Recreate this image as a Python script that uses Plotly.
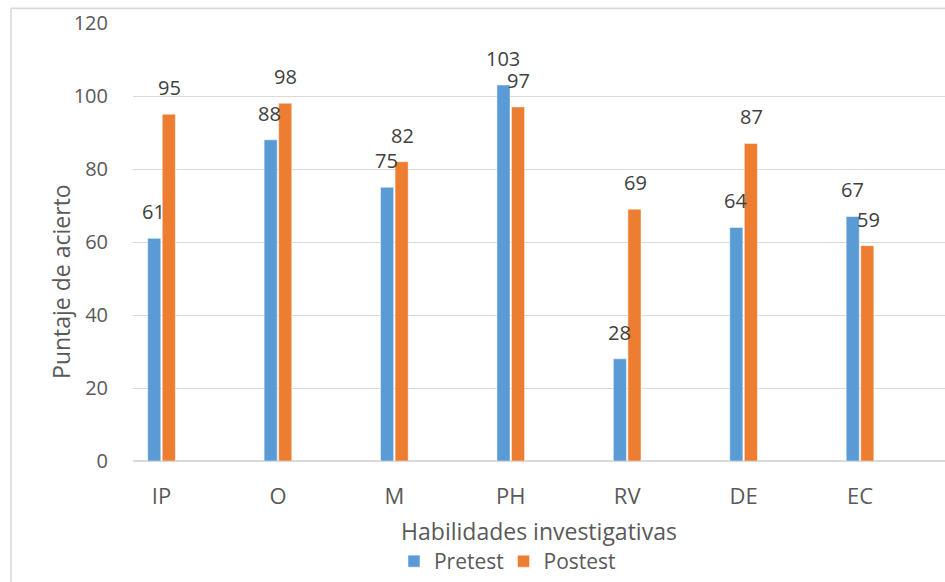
import plotly.graph_objects as go

# Skill categories and scores
categorias = ["IP", "O", "M", "PH", "RV", "DE", "EC"]
pretest = [61, 88, 75, 103, 28, 64, 67]
postest = [95, 98, 82, 97, 69, 87, 59]
ticks_y = [0, 20, 40, 60, 80, 100, 120]

AZUL = "#5B9BD5"
NARANJA = "#ED7D31"
GRIS_TXT = "#595959"
GRIS_ETQ = "#404040"
GRIS_LIN = "#D9D9D9"
FUENTE = "Open Sans"

fig = go.Figure()
fig.add_trace(go.Bar(
    name="Pretest", x=categorias, y=pretest, legend="legend",
    marker=dict(color=AZUL, line=dict(color="rgba(255,255,255,0.6)", width=0.8)),
))
fig.add_trace(go.Bar(
    name="Postest", x=categorias, y=postest, legend="legend2",
    marker=dict(color=NARANJA, line=dict(color="rgba(255,255,255,0.6)", width=0.8)),
))

# Value labels above each bar
anotaciones = []
for serie, desplaz in ((pretest, -8), (postest, 8)):
    for cat, val in zip(categorias, serie):
        anotaciones.append(dict(
            x=cat, y=val, xref="x", yref="y", text=str(val), showarrow=False,
            xanchor="center", yanchor="bottom", xshift=desplaz, yshift=11,
            font=dict(family=FUENTE, size=20, color=GRIS_ETQ),
        ))

# Vertical axis title
anotaciones.append(dict(
    x=-0.0887, y=0.411, xref="paper", yref="paper", text="Puntaje de acierto",
    textangle=-90, showarrow=False, xanchor="center", yanchor="middle",
    font=dict(family=FUENTE, size=23, color=GRIS_TXT),
))

# Chart frame (left and top edges)
formas = [
    dict(type="line", xref="paper", yref="paper", x0=-0.1502, x1=-0.1502,
         y0=1.0334, y1=-0.3, line=dict(color=GRIS_LIN, width=1.6)),
    dict(type="line", xref="paper", yref="paper", x0=-0.1502, x1=1.05,
         y0=1.0334, y1=1.0334, line=dict(color=GRIS_LIN, width=1.6)),
]

estilo_leyenda = dict(
    orientation="h", y=-0.23, xanchor="left", yanchor="middle",
    font=dict(family=FUENTE, size=21, color=GRIS_TXT),
    bgcolor="rgba(0,0,0,0)",
)

fig.update_layout(
    width=945, height=582,
    margin=dict(l=133, r=0, t=23, b=119),
    paper_bgcolor="white", plot_bgcolor="white",
    barmode="group", bargap=0.75, bargroupgap=0.1,
    font=dict(family=FUENTE, size=20, color=GRIS_TXT),
    annotations=anotaciones,
    shapes=formas,
    showlegend=True,
    legend=dict(x=0.3214, **estilo_leyenda),
    legend2=dict(x=0.4563, **estilo_leyenda),
    xaxis=dict(
        range=[-0.245, 6.73], showgrid=False, showline=False,
        ticks="outside", ticklen=0, ticklabelstandoff=16,
        tickfont=dict(family=FUENTE, size=22, color=GRIS_TXT),
        title=dict(text="Habilidades investigativas", standoff=14,
                   font=dict(family=FUENTE, size=23, color=GRIS_TXT)),
    ),
    yaxis=dict(
        range=[0, 120], tickvals=ticks_y, showgrid=True,
        gridcolor=GRIS_LIN, gridwidth=1.3,
        zeroline=True, zerolinecolor=GRIS_LIN, zerolinewidth=1.5,
        showline=False, ticks="outside", ticklen=0, ticklabelstandoff=20,
        tickfont=dict(family=FUENTE, size=20, color=GRIS_TXT),
    ),
)

fig.write_html("out.html")
